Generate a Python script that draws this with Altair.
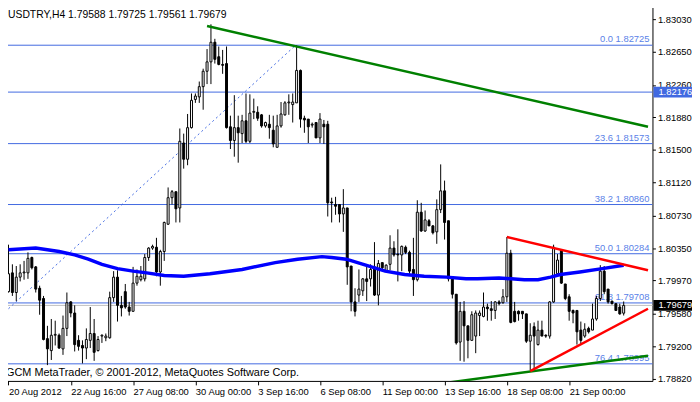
import json
import altair as alt
import pandas as pd

# ---------------- data ----------------
symbol = "USDTRY"
timeframe = "H4"

opens = [1.7984, 1.8006, 1.7983, 1.8001, 1.8006, 1.8006, 1.8024, 1.8013, 1.7988, 1.7976,
         1.7929, 1.7915, 1.7933, 1.7933, 1.7917, 1.7941, 1.7972, 1.7959, 1.7927, 1.7921,
         1.7918, 1.7927, 1.7935, 1.7915, 1.7932, 1.7930, 1.7930, 1.7977, 1.8001, 1.7968,
         1.7984, 1.7966, 1.7961, 1.7994, 1.7998, 1.7999, 1.8024, 1.8035, 1.8036, 1.8007,
         1.8031, 1.8063, 1.8094, 1.8101, 1.8082, 1.8158, 1.8139, 1.8176, 1.8209, 1.8212,
         1.8224, 1.8242, 1.8253, 1.8276, 1.8259, 1.8250, 1.8251, 1.8177, 1.8161, 1.8176,
         1.8169, 1.8184, 1.8160, 1.8194, 1.8194, 1.8191, 1.8178, 1.8180, 1.8173, 1.8153,
         1.8178, 1.8191, 1.8205, 1.8203, 1.8205, 1.8243, 1.8187, 1.8186, 1.8179, 1.8182,
         1.8164, 1.8180, 1.8180, 1.8089, 1.8086, 1.8086, 1.8075, 1.8082, 1.8014, 1.7972,
         1.7980, 1.7985, 1.7999, 1.7999, 1.8013, 1.7980, 1.8018, 1.8008, 1.8016, 1.8035,
         1.8028, 1.8027, 1.8036, 1.8030, 1.8010, 1.7998, 1.8077, 1.8055, 1.8067, 1.8061,
         1.8054, 1.8080, 1.8102, 1.8067, 1.7999, 1.7981, 1.7925, 1.7961, 1.7944, 1.7927,
         1.7932, 1.7956, 1.7955, 1.7966, 1.7964, 1.7962, 1.7972, 1.7971, 1.7978, 1.8029,
         1.7961, 1.7961, 1.7961, 1.7958, 1.7926, 1.7943, 1.7922, 1.7939, 1.7933, 1.7932,
         1.7972, 1.8005, 1.8033, 1.7993, 1.7978, 1.7962, 1.7962, 1.7939, 1.7932, 1.7941,
         1.7939, 1.7952, 1.7976, 1.8008, 1.7987, 1.7973, 1.7970, 1.7966, 1.79588]
highs = [1.8039, 1.8016, 1.8014, 1.8016, 1.8020, 1.8030, 1.8025, 1.8014, 1.7991, 1.7979,
         1.7944, 1.7952, 1.7950, 1.7935, 1.7956, 1.7983, 1.7973, 1.7968, 1.7933, 1.7927,
         1.7941, 1.7966, 1.7952, 1.7932, 1.7934, 1.7935, 1.7984, 1.8008, 1.8009, 1.7979,
         1.7993, 1.7972, 1.8013, 1.8010, 1.8014, 1.8028, 1.8036, 1.8039, 1.8047, 1.8033,
         1.8066, 1.8106, 1.8103, 1.8101, 1.8175, 1.8169, 1.8192, 1.8216, 1.8216, 1.8230,
         1.8245, 1.8268, 1.8297, 1.8280, 1.8271, 1.8267, 1.8271, 1.8190, 1.8214, 1.8190,
         1.8191, 1.8216, 1.8215, 1.8210, 1.8201, 1.8192, 1.8183, 1.8191, 1.8190, 1.8191,
         1.8206, 1.8207, 1.8215, 1.8216, 1.82725, 1.8244, 1.8190, 1.8186, 1.8182, 1.8182,
         1.8193, 1.8185, 1.8184, 1.8094, 1.8095, 1.8086, 1.8104, 1.8082, 1.8014, 1.7988,
         1.8010, 1.8000, 1.8014, 1.8016, 1.8042, 1.8021, 1.8018, 1.8016, 1.8050, 1.8043,
         1.8057, 1.8038, 1.8038, 1.8032, 1.8047, 1.8091, 1.8088, 1.8079, 1.8069, 1.8062,
         1.8092, 1.8133, 1.8114, 1.8067, 1.8001, 1.7981, 1.7972, 1.7973, 1.7944, 1.7961,
         1.7962, 1.7962, 1.7983, 1.7970, 1.7973, 1.7973, 1.7974, 1.7987, 1.8048, 1.8033,
         1.7972, 1.7962, 1.7961, 1.7958, 1.7947, 1.7948, 1.7950, 1.7950, 1.7934, 1.7973,
         1.8039, 1.8028, 1.8033, 1.7993, 1.7981, 1.7963, 1.7962, 1.7949, 1.7947, 1.7943,
         1.7970, 1.7979, 1.8015, 1.8014, 1.7987, 1.7973, 1.7970, 1.7970, 1.79725]
lows = [1.7983, 1.7979, 1.7973, 1.7996, 1.7998, 1.7999, 1.8010, 1.7983, 1.7957, 1.7927,
        1.7898, 1.7904, 1.7921, 1.7917, 1.7910, 1.7932, 1.7954, 1.7914, 1.7915, 1.7900,
        1.7905, 1.7918, 1.7903, 1.7914, 1.7924, 1.7926, 1.7929, 1.7972, 1.7949, 1.7955,
        1.7964, 1.7956, 1.7961, 1.7991, 1.7996, 1.7996, 1.8020, 1.8033, 1.8002, 1.7991,
        1.8020, 1.8062, 1.8086, 1.8065, 1.8065, 1.8128, 1.8132, 1.8175, 1.8205, 1.8205,
        1.8197, 1.8227, 1.8227, 1.8251, 1.8249, 1.8239, 1.8175, 1.8151, 1.8142, 1.8135,
        1.8158, 1.8158, 1.8158, 1.8186, 1.8184, 1.8176, 1.8176, 1.8163, 1.8153, 1.8153,
        1.8176, 1.8190, 1.8191, 1.8182, 1.8205, 1.8176, 1.8170, 1.8158, 1.8176, 1.8164,
        1.8158, 1.8157, 1.8072, 1.8065, 1.8074, 1.8065, 1.8054, 1.7992, 1.7961, 1.7955,
        1.7972, 1.7979, 1.7973, 1.7990, 1.7979, 1.7968, 1.8008, 1.8008, 1.8009, 1.8025,
        1.7996, 1.8008, 1.8028, 1.8005, 1.7979, 1.7996, 1.8054, 1.8054, 1.8061, 1.8051,
        1.8040, 1.8076, 1.8045, 1.7996, 1.7976, 1.7922, 1.7903, 1.7902, 1.7906, 1.7927,
        1.7912, 1.7932, 1.7954, 1.7950, 1.7950, 1.7952, 1.7968, 1.7970, 1.7972, 1.7947,
        1.7948, 1.7950, 1.7952, 1.7924, 1.7892, 1.7891, 1.7921, 1.7932, 1.7930, 1.7929,
        1.7971, 1.8004, 1.7993, 1.7974, 1.7950, 1.7947, 1.7922, 1.7922, 1.7930, 1.7935,
        1.7939, 1.7950, 1.7973, 1.7981, 1.7970, 1.7969, 1.7962, 1.7957, 1.79561]
closes = [1.8005, 1.7983, 1.8001, 1.8006, 1.8007, 1.8023, 1.8012, 1.7987, 1.7974, 1.7928,
          1.7917, 1.7933, 1.7934, 1.7918, 1.7941, 1.7971, 1.7959, 1.7922, 1.7920, 1.7918,
          1.7928, 1.7935, 1.7913, 1.7928, 1.7933, 1.7932, 1.7977, 1.8001, 1.7968, 1.7965,
          1.7966, 1.7961, 1.7994, 1.8002, 1.8002, 1.8024, 1.8035, 1.8037, 1.8007, 1.8031,
          1.8065, 1.8094, 1.8101, 1.8081, 1.8160, 1.8139, 1.8176, 1.8208, 1.8213, 1.8224,
          1.8242, 1.8253, 1.8276, 1.8256, 1.8250, 1.8249, 1.8176, 1.8161, 1.8176, 1.8170,
          1.8184, 1.8160, 1.8193, 1.8195, 1.8187, 1.8178, 1.8182, 1.8176, 1.8157, 1.8178,
          1.8192, 1.8205, 1.8206, 1.8206, 1.8243, 1.8186, 1.8185, 1.8177, 1.8180, 1.8164,
          1.8186, 1.8177, 1.8088, 1.8088, 1.8084, 1.8075, 1.8082, 1.8013, 1.7972, 1.7961,
          1.7987, 1.7999, 1.7996, 1.8010, 1.7980, 1.8017, 1.8012, 1.8015, 1.8035, 1.8027,
          1.8027, 1.8037, 1.8030, 1.8008, 1.7998, 1.8077, 1.8055, 1.8068, 1.8061, 1.8053,
          1.8080, 1.8102, 1.8065, 1.7999, 1.7981, 1.7924, 1.7961, 1.7944, 1.7927, 1.7957,
          1.7959, 1.7959, 1.7966, 1.7964, 1.7962, 1.7972, 1.7970, 1.7978, 1.8029, 1.7948,
          1.7949, 1.7958, 1.7958, 1.7926, 1.7933, 1.7932, 1.7939, 1.7932, 1.7932, 1.7972,
          1.8036, 1.8021, 1.7994, 1.7976, 1.7961, 1.7959, 1.7937, 1.7927, 1.7940, 1.7937,
          1.7952, 1.7976, 1.8008, 1.7984, 1.7972, 1.7970, 1.7962, 1.7958, 1.79679]

# moving average (sampled points: bar index, price)
ma_idx = [0, 7, 13, 17, 20.5, 24, 28, 32, 35.5, 40, 45, 51.75, 60, 68.5, 74.25, 80.5, 83,
          86.75, 91.75, 96.75, 101.75, 106.75, 112.5, 117.5, 120.5, 126, 132.5, 136, 139.25,
          141.75, 146.75, 152.5, 158]
ma_val = [1.8033, 1.8035, 1.8031, 1.8027, 1.8022, 1.8016, 1.8011, 1.8008, 1.8006, 1.8003,
          1.8002, 1.8005, 1.8010, 1.8018, 1.8022, 1.8025, 1.8024, 1.8022, 1.8015, 1.8008,
          1.8004, 1.8002, 1.8001, 1.7999, 1.7999, 1.8000, 1.7998, 1.7998, 1.8001, 1.8004,
          1.8007, 1.8011, 1.8015]

# Fibonacci retracement
fib_levels = [0.0, 23.6, 38.2, 50.0, 61.8, 76.4]
fib_prices = [1.82725, 1.81573, 1.80860, 1.80284, 1.79708, 1.78995]
fib_trend_idx = [0, 73.75]
fib_trend_val = [1.7964, 1.82725]

# trend lines (bar index, price)
green_top_idx = [51, 164.25]
green_top_val = [1.8295, 1.8177]
green_bot_idx = [112, 164.25]
green_bot_val = [1.7877, 1.7909]
red_top_idx = [128, 164.25]
red_top_val = [1.8048, 1.8009]
red_bot_idx = [134, 164.25]
red_bot_val = [1.7891, 1.7964]

hline_price = 1.82176
bid_price = 1.79679

x_tick_idx = [0, 16, 32, 48, 64, 80, 96, 112, 128, 144]
x_tick_labels = ["20 Aug 2012", "22 Aug 16:00", "27 Aug 08:00", "30 Aug 00:00", "3 Sep 16:00",
                 "6 Sep 08:00", "11 Sep 00:00", "13 Sep 16:00", "18 Sep 08:00", "21 Sep 00:00"]
y_ticks = [1.78820, 1.79200, 1.79580, 1.79970, 1.80350, 1.80730, 1.81120, 1.81500,
           1.81880, 1.82260, 1.82650, 1.83030]

copyright_text = "GCM MetaTrader, \u00a9 2001-2012, MetaQuotes Software Corp."

# ---------------- chart ----------------
FONT = "Liberation Sans"
FS = 9.5
W, H = 657, 380
FIB_BLUE = "#4169E1"
FIB_TEXT = "#5A82E8"

xs = alt.Scale(domain=[-0.125, 164.125], nice=False, zero=False)
ys = alt.Scale(domain=[1.78795, 1.83192], nice=False, zero=False)

candles = pd.DataFrame({"idx": list(range(len(opens))), "open": opens, "high": highs,
                        "low": lows, "close": closes})
candles["bull"] = candles["close"] >= candles["open"]

label_expr = json.dumps(x_tick_labels) + "[round(datum.value / 16)]"

x_axis = alt.Axis(
    values=x_tick_idx, labelExpr=label_expr, labelAlign="left", labelBaseline="top",
    tickSize=4, tickColor="black", labelPadding=2, domain=False, grid=False, title=None,
    labelFont=FONT, labelFontSize=FS, labelColor="black", labelFlush=False, labelOverlap=False)
y_axis = alt.Axis(values=y_ticks, format=".5f", orient="right", tickSize=3, tickColor="black",
                  labelPadding=2, domain=False, grid=False, title=None, labelFont=FONT,
                  labelFontSize=FS, labelColor="black", labelOverlap=False, labelFlush=False)


def X(field):
    return alt.X(field, scale=xs, axis=x_axis)


def Y(field):
    return alt.Y(field, scale=ys, axis=y_axis)


base = alt.Chart(candles)

# fib horizontal levels + user hline + bid line
fib_df = pd.DataFrame({"level": fib_levels, "price": fib_prices})
fib_df["label"] = [f"{l:.1f} {p:.5f}" for l, p in zip(fib_levels, fib_prices)]
fib_rules = alt.Chart(fib_df).mark_rule(color=FIB_BLUE, strokeWidth=1).encode(y=Y("price:Q"))
hl = alt.Chart(pd.DataFrame({"price": [hline_price]})).mark_rule(
    color=FIB_BLUE, strokeWidth=1).encode(y=Y("price:Q"))
bid = alt.Chart(pd.DataFrame({"price": [bid_price]})).mark_rule(
    color="#C0C0C0", strokeWidth=1).encode(y=Y("price:Q"))
fib_text = alt.Chart(fib_df).mark_text(
    align="right", baseline="bottom", dy=-1, font=FONT, fontSize=FS, color=FIB_TEXT).encode(
    x=alt.value(W - 3), y=Y("price:Q"), text="label:N")

fib_trend = alt.Chart(pd.DataFrame({"idx": fib_trend_idx, "price": fib_trend_val})).mark_line(
    color=FIB_BLUE, strokeWidth=1, strokeDash=[2, 3], clip=True).encode(
    x=X("idx:Q"), y=Y("price:Q"))

wicks = base.mark_rule(color="black", strokeWidth=1).encode(
    x=X("idx:Q"), y=Y("low:Q"), y2="high:Q")
bodies = base.mark_bar(size=2, stroke="black", strokeWidth=1).encode(
    x=X("idx:Q"), y=Y("open:Q"), y2="close:Q",
    fill=alt.condition("datum.bull", alt.value("white"), alt.value("black")))

ma = alt.Chart(pd.DataFrame({"idx": ma_idx, "price": ma_val})).mark_line(
    color="#0000FF", strokeWidth=3.5).encode(x=X("idx:Q"), y=Y("price:Q"))


def seg(ix, vals, color, width):
    return alt.Chart(pd.DataFrame({"idx": ix, "price": vals})).mark_line(
        color=color, strokeWidth=width, clip=True).encode(x=X("idx:Q"), y=Y("price:Q"))


g1 = seg(green_top_idx, green_top_val, "#008000", 2.5)
g2 = seg(green_bot_idx, green_bot_val, "#008000", 2.5)
r1 = seg(red_top_idx, red_top_val, "#FF0000", 2.5)
r2 = seg(red_bot_idx, red_bot_val, "#FF0000", 2.5)

# price boxes on right axis
boxes_df = pd.DataFrame({"price": [hline_price, bid_price], "col": [FIB_BLUE, "black"],
                         "txt": [f"{hline_price:.5f}", f"{bid_price:.5f}"]})
box = alt.Chart(boxes_df).mark_rule(strokeWidth=11).encode(
    x=alt.value(W + 1), x2=alt.value(W + 45), y=Y("price:Q"),
    color=alt.Color("col:N", scale=None))
box_txt = alt.Chart(boxes_df).mark_text(
    align="left", baseline="middle", font=FONT, fontSize=FS, color="white").encode(
    x=alt.value(W + 6), y=Y("price:Q"), text="txt:N")

header = f"{symbol},{timeframe}  {opens[-1]:.5f} {highs[-1]:.5f} {lows[-1]:.5f} {closes[-1]:.5f}"
head = alt.Chart(pd.DataFrame({"t": [header]})).mark_text(
    align="left", baseline="middle", font=FONT, fontSize=10.5, color="black").encode(
    x=alt.value(5), y=alt.value(10), text="t:N")
copy = alt.Chart(pd.DataFrame({"t": [copyright_text]})).mark_text(
    align="left", baseline="middle", font=FONT, fontSize=11, color="black").encode(
    x=alt.value(3), y=alt.value(H - 8), text="t:N")

chart = alt.layer(
    fib_rules, hl, bid, fib_text, fib_trend, wicks, bodies, ma, g1, g2, r1, r2,
    box, box_txt, head, copy
).properties(
    width=W, height=H,
    autosize=alt.AutoSizeParams(type="none"),
    padding={"left": -5, "top": -5, "right": 40, "bottom": 16},
    background="white",
).configure_view(stroke="black", strokeWidth=1).configure_axis(labelOverlap=False)

chart.save("out.html", embed_options={"renderer": "svg", "actions": False})
